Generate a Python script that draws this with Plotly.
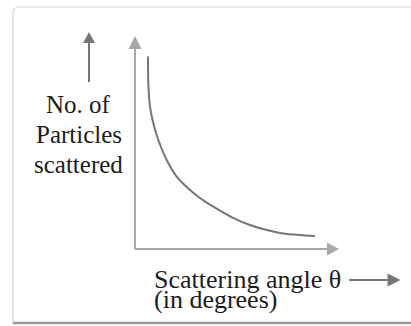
import plotly.graph_objects as go

# Schematic Rutherford scattering curve: number of scattered particles vs angle
theta_deg = [13, 13.3, 15, 18.3, 23.3, 31.7, 41.7, 55, 65, 71.7, 81.7, 98, 115, 131.7, 148, 165, 180]
particles = [96.2, 83, 71.2, 62.9, 54.5, 44.5, 36.2, 29.5, 25.5, 23.2, 20.2, 15.6, 12, 9.5, 7.8, 7, 6.5]

y_label_lines = ["No. of", "Particles", "scattered"]
x_label_lines = ["Scattering angle θ", "(in degrees)"]

W, H = 411, 326
SERIF = "Palatino Linotype, Book Antiqua, Palatino, Liberation Serif, serif"
AXIS_GREY = "#a8a8a8"
CURVE_GREY = "#767676"
TEXT = "#1c1c1c"

# axis extents in data units (origin at 0, 0)
X_END, X_TIP = 192, 204
Y_END, Y_TIP = 100, 106.5
X_HALF_HEAD, Y_HALF_HEAD = 6.5, 3.3


def px(x):
    return x / W


def py(y):
    return 1 - y / H


fig = go.Figure()

fig.add_trace(go.Scatter(
    x=theta_deg, y=particles, mode="lines",
    line=dict(color=CURVE_GREY, width=2, shape="spline", smoothing=0.6),
    hoverinfo="skip", showlegend=False,
))

shapes = []

# rounded card frame
r = 6
left, top, bottom, right = 13, 7, 323, 420
shapes.append(dict(
    type="path", xref="paper", yref="paper",
    path=(f"M {px(left)},{py(bottom)} L {px(left)},{py(top + r)} "
          f"Q {px(left)},{py(top)} {px(left + r)},{py(top)} L {px(right)},{py(top)}"),
    line=dict(color="#d6d6d6", width=1.2), layer="below",
))
shapes.append(dict(
    type="line", xref="paper", yref="paper",
    x0=px(left), x1=px(right), y0=py(bottom), y1=py(bottom),
    line=dict(color="#9a9a9a", width=2.5), layer="below",
))

# axes with arrow heads (data coordinates)
shapes.append(dict(type="line", xref="x", yref="y", x0=0, y0=0, x1=X_END, y1=0,
                   line=dict(color=AXIS_GREY, width=2)))
shapes.append(dict(type="line", xref="x", yref="y", x0=0, y0=0, x1=0, y1=Y_END,
                   line=dict(color=AXIS_GREY, width=2)))
shapes.append(dict(type="path", xref="x", yref="y",
                   path=f"M {X_END},{-Y_HALF_HEAD} L {X_TIP},0 L {X_END},{Y_HALF_HEAD} Z",
                   fillcolor=AXIS_GREY, line=dict(width=0)))
shapes.append(dict(type="path", xref="x", yref="y",
                   path=f"M {-X_HALF_HEAD},{Y_END} L 0,{Y_TIP} L {X_HALF_HEAD},{Y_END} Z",
                   fillcolor=AXIS_GREY, line=dict(width=0)))


def arrow(x0, y0, x1, y1, head_len, half_w, color, horizontal):
    """Shaft plus triangular head, in page pixels."""
    if horizontal:
        base = x1 - head_len
        shapes.append(dict(type="line", xref="paper", yref="paper",
                           x0=px(x0), y0=py(y0), x1=px(base), y1=py(y1),
                           line=dict(color=color, width=2)))
        shapes.append(dict(type="path", xref="paper", yref="paper",
                           path=(f"M {px(base)},{py(y1 - half_w)} L {px(x1)},{py(y1)} "
                                 f"L {px(base)},{py(y1 + half_w)} Z"),
                           fillcolor=color, line=dict(width=0)))
    else:
        base = y1 + head_len
        shapes.append(dict(type="line", xref="paper", yref="paper",
                           x0=px(x0), y0=py(y0), x1=px(x1), y1=py(base),
                           line=dict(color=color, width=2)))
        shapes.append(dict(type="path", xref="paper", yref="paper",
                           path=(f"M {px(x1 - half_w)},{py(base)} L {px(x1)},{py(y1)} "
                                 f"L {px(x1 + half_w)},{py(base)} Z"),
                           fillcolor=color, line=dict(width=0)))


# direction arrows next to the axis captions
arrow(89, 82, 89, 32, 11, 6, CURVE_GREY, horizontal=False)
arrow(349, 280, 400.5, 280, 13, 6.5, CURVE_GREY, horizontal=True)

annotations = []
for i, t in enumerate(y_label_lines):
    annotations.append(dict(
        text=t, xref="paper", yref="paper", x=px(78.5), y=py(105 + 29.5 * i),
        xanchor="center", yanchor="middle", showarrow=False,
        font=dict(family=SERIF, size=25, color=TEXT),
    ))
for i, t in enumerate(x_label_lines):
    annotations.append(dict(
        text=t, xref="paper", yref="paper", x=px(152), y=py(279 + 20.5 * i),
        xanchor="left", yanchor="middle", showarrow=False,
        font=dict(family=SERIF, size=26, color=TEXT),
    ))

fig.update_layout(
    width=W, height=H,
    margin=dict(l=0, r=0, t=0, b=0),
    paper_bgcolor="white", plot_bgcolor="white",
    xaxis=dict(range=[-135, W - 135], visible=False, fixedrange=True),
    yaxis=dict(range=[(249 - H) / 2, 249 / 2], visible=False, fixedrange=True),
    shapes=shapes, annotations=annotations,
    showlegend=False,
)

fig.write_html("out.html")
